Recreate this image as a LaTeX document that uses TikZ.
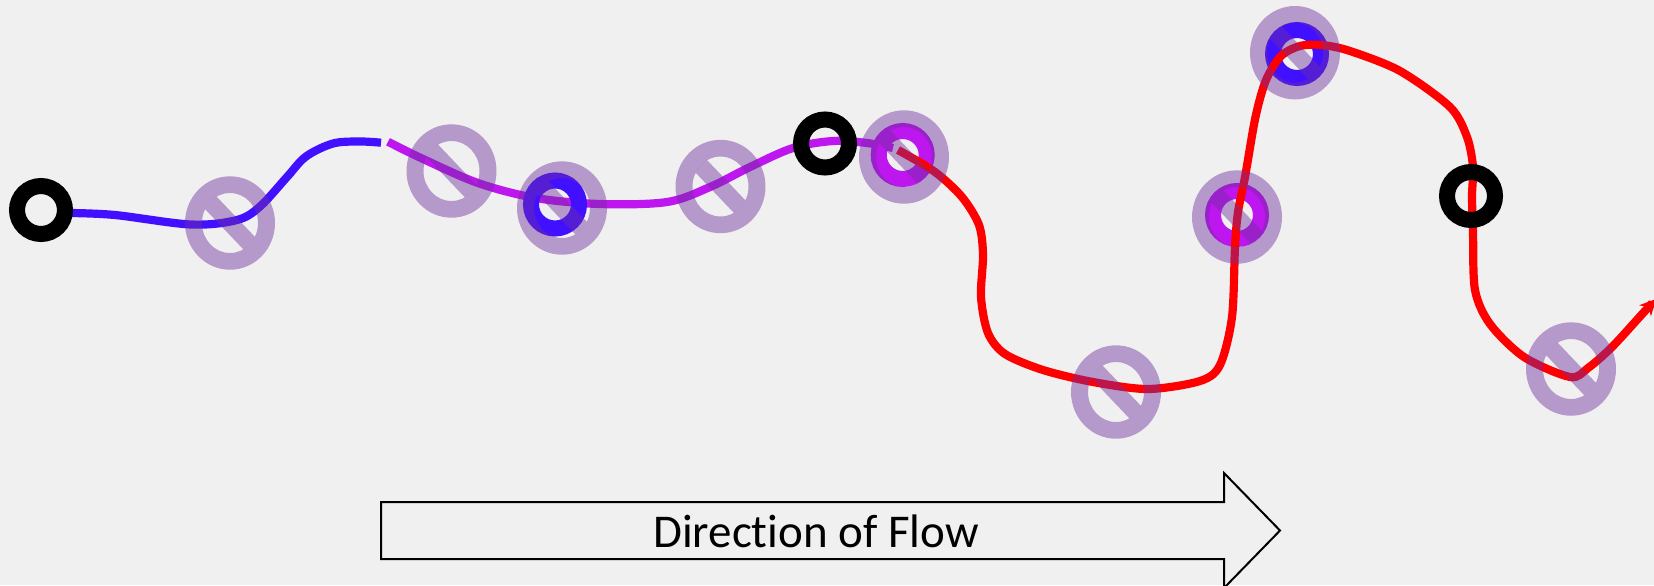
\documentclass[tikz,border=0pt]{standalone}
\usepackage{fontspec}
\setmainfont{Carlito}[Ligatures=NoCommon]
\usetikzlibrary{arrows.meta}
\definecolor{bg}{RGB}{240,240,240}
\definecolor{lblue}{RGB}{64,16,255}
\definecolor{lmag}{RGB}{190,22,238}
\definecolor{lred}{RGB}{255,0,0}
\definecolor{nopurple}{RGB}{112,48,160}
\newcommand\noSymb[1]{%
  \fill[nopurple, fill opacity=0.45, even odd rule]
    (#1) ellipse[x radius=22.5pt, y radius=23.35pt]
    (#1) ellipse[x radius=14pt, y radius=15pt];
  \begin{scope}
    \clip (#1) ellipse[x radius=14pt, y radius=15pt];
    \draw[nopurple, draw opacity=0.45, line width=8.5pt] (#1) ++(-40,-42) -- ++(80,84);
  \end{scope}}
\begin{document}
\begin{tikzpicture}[x=0.5pt,y=-0.5pt,
  flow/.style={line width=4.1pt},
  ringshape/.style={line width=8pt},
  flowarrow/.style={draw=black, line width=1pt, fill=bg}]
\useasboundingbox (0,0) rectangle (1654,585);
\clip (0,0) rectangle (1654,585);
\fill[bg] (0,0) rectangle (1654,585);

% ring centres
\coordinate (B1) at (41,210);
\coordinate (B2) at (825,143.5);
\coordinate (B3) at (1471,196);
\coordinate (R1) at (555,204.5);
\coordinate (R2) at (902.7,155);
\coordinate (R3) at (1237,215);
\coordinate (R4) at (1297,54);
% no symbols
\coordinate (N1) at (230,223);
\coordinate (N2) at (451.5,171);
\coordinate (N3) at (562,208);
\coordinate (N4) at (720.5,186.5);
\coordinate (N5) at (904,157);
\coordinate (N6) at (1116,392);
\coordinate (N7) at (1237,217);
\coordinate (N8) at (1295,52.7);
\coordinate (N9) at (1571,369);

% blue segment
\draw[flow, lblue] plot[smooth, tension=0.55] coordinates {
  (70,213) (115,215) (191,224.5) (237,220) (260,206.5) (287,177) (306,156.5)
  (333,143.5) (360,141.5) (381,142.7)};
% magenta segment
\draw[flow, lmag] plot[smooth, tension=0.55] coordinates {
  (388,141.7) (421,158) (478,183) (536,198) (600,204) (667,202) (710,187)
  (750,167) (793,148) (833,141) (867,143) (893,148)};

% coloured rings
\draw[ringshape, lblue] (R1) circle[radius=12pt];
\draw[ringshape, lmag] (R2) circle[radius=12pt];
\draw[ringshape, lmag] (R3) circle[radius=12pt];
\draw[ringshape, lblue] (R4) circle[radius=12pt];

% red segment
\draw[flow, lred, -{Stealth[length=8pt,width=8pt]}] plot[smooth, tension=0.5] coordinates {
  (898,150) (935,172) (962,197) (979,225) (983,255) (981,297) (988,333)
  (1005,354) (1043,370) (1093,382) (1148,389) (1200,381) (1220,365)
  (1232,317) (1235,247) (1238,212) (1245,177) (1255.5,117) (1266,80)
  (1281,56) (1300,46) (1322,45) (1350,51) (1400,71) (1450,107)
  (1467,137) (1473,167) (1472,196) (1473,233) (1475,290) (1490,324)
  (1524,357) (1570,377) (1588,368) (1612,347) (1644,312) (1656,299)};

% black rings
\draw[ringshape, black] (B1) circle[radius=12pt];
\draw[ringshape, black] (B2) circle[radius=12pt];
\draw[ringshape, black] (B3) circle[radius=12pt];

% no symbols
\noSymb{N1}
\noSymb{N2}
\noSymb{N3}
\noSymb{N4}
\noSymb{N5}
\noSymb{N6}
\noSymb{N7}
\noSymb{N8}
\noSymb{N9}

% direction arrow
\draw[flowarrow] (381,502) -- (1224,502) -- (1224,473) -- (1280,530.5)
  -- (1224,588) -- (1224,559) -- (381,559) -- cycle;
\node[font=\fontsize{23.5pt}{28pt}\selectfont, inner sep=0pt] (label) at (816,531) {Direction of Flow};
\end{tikzpicture}
\end{document}
